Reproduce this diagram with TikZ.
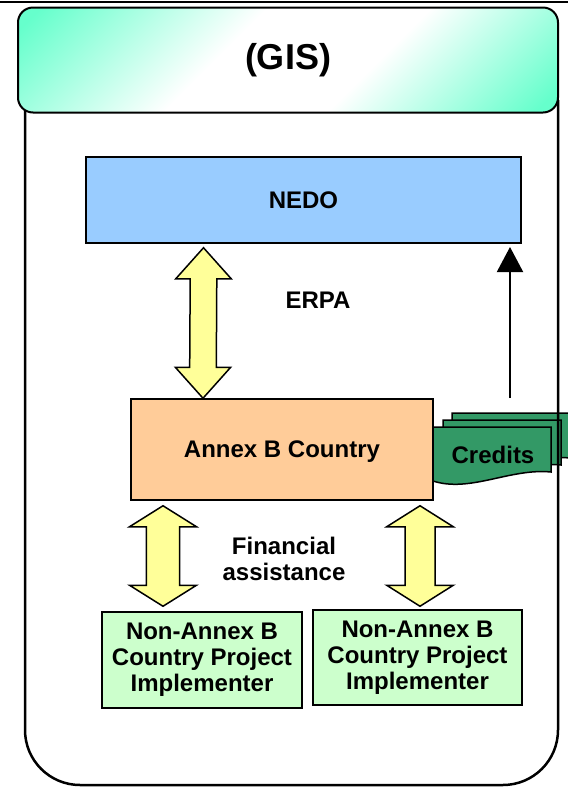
\documentclass[tikz,border=0pt]{standalone}
\usepackage{fontspec}
\setmainfont{Liberation Sans}
\usetikzlibrary{arrows.meta}
\definecolor{hdrgreen}{RGB}{102,255,204}
\definecolor{nedoblue}{RGB}{153,204,255}
\definecolor{peach}{RGB}{255,204,153}
\definecolor{palegreen}{RGB}{204,255,204}
\definecolor{creditgreen}{RGB}{51,153,102}
\definecolor{paleyellow}{RGB}{255,255,153}
\pgfdeclareverticalshading{gisfade}{100bp}{color(0bp)=(hdrgreen); color(17bp)=(hdrgreen); color(40bp)=(white); color(58bp)=(white); color(83bp)=(hdrgreen); color(100bp)=(hdrgreen)}
\tikzstyle{header} = [rectangle, rounded corners=15pt, draw, line width=2pt, minimum width=540pt, minimum height=105pt, shading=gisfade, shading angle=45, font=\fontsize{36}{40}\selectfont\bfseries]
\tikzstyle{block} = [rectangle, draw, line width=1.5pt, text centered, align=center, font=\fontsize{24}{26}\selectfont\bfseries]
\tikzstyle{txt} = [align=center, font=\fontsize{24}{26}\selectfont\bfseries]
\tikzstyle{credit} = [draw, line width=1.5pt, fill=creditgreen]
\tikzstyle{fatarrow} = [draw, line width=1.5pt, fill=paleyellow, line join=miter]
\tikzstyle{arrow} = [line width=2pt, -{Triangle[width=26pt,length=25pt]}]
% #1 top tip, #2 bottom tip, #3 half shaft, #4 half head, #5 head length
\newcommand{\fatdouble}[5]{%
  \draw[fatarrow] (#1) -- ([shift={(#4,#5)}]#1) -- ([shift={(#3,#5)}]#1)
    -- ([shift={(#3,-#5)}]#2) -- ([shift={(#4,-#5)}]#2) -- (#2)
    -- ([shift={(-#4,-#5)}]#2) -- ([shift={(-#3,-#5)}]#2)
    -- ([shift={(-#3,#5)}]#1) -- ([shift={(-#4,#5)}]#1) -- cycle;}
% one sheet of the credits pile, shifted by (#1,#2)
\newcommand{\creditsheet}[2]{%
  \draw[credit] (433+#1,427+#2) -- (551+#1,427+#2) -- (551+#1,472+#2)
    .. controls (510+#1,468+#2) and (470+#1,493+#2) .. (433+#1,481+#2) -- cycle;}

\begin{document}
\begin{tikzpicture}[x=1pt, y=-1pt]
            \clip (0,0) rectangle (568,788);
            \fill[white] (0,0) rectangle (568,788);
            \draw[line width=1.5pt] (0,2) -- (568,2);

            \creditsheet{19}{-14}
            \creditsheet{10}{-7}
            \creditsheet{0}{0}
            \node [txt] at (493,455) (credits) {Credits};

            \draw[line width=2.5pt, rounded corners=55pt] (25,100) -- (25,785) -- (558,785) -- (558,100);
            \node [header] at (288,60) (gis) {(GIS)};

            \node [block, fill=nedoblue, minimum width=435pt, minimum height=86pt] at (303.5,200) (nedo) {NEDO};
            \node [block, fill=peach, minimum width=302pt, minimum height=101pt, text depth=0pt] at (282,449.5) (annex) {Annex B Country};
            \node [block, fill=palegreen, minimum width=200pt, minimum height=96pt] at (202,660) (impl1) {Non-Annex B\\Country Project\\Implementer};
            \node [block, fill=palegreen, minimum width=209pt, minimum height=95pt] at (417.5,657.5) (impl2) {Non-Annex B\\Country Project\\Implementer};
            \node [txt] at (318,300) (erpa) {ERPA};
            \node [txt] at (284,559) (fin) {Financial\\assistance};

            \coordinate (erpaT) at ([xshift=-100pt, yshift=-4pt]nedo.south);
            \coordinate (erpaB) at ([xshift=-79pt]annex.north);
            \coordinate (fin1T) at ([xshift=-119pt, yshift=-5pt]annex.south);
            \coordinate (fin1B) at ([xshift=-39pt, yshift=5pt]impl1.north);
            \coordinate (fin2T) at ([xshift=138pt, yshift=-5pt]annex.south);
            \coordinate (fin2B) at ([xshift=2.5pt, yshift=3pt]impl2.north);
            \fatdouble{erpaT}{erpaB}{13.3}{27.7}{31}
            \fatdouble{fin1T}{fin1B}{16.7}{33.5}{21}
            \fatdouble{fin2T}{fin2B}{15}{33.3}{21}

            \coordinate (crbase) at (510,398);
            \coordinate (crtip) at (510,247);
            \draw [arrow] (crbase) -- (crtip);
\end{tikzpicture}
\end{document}
